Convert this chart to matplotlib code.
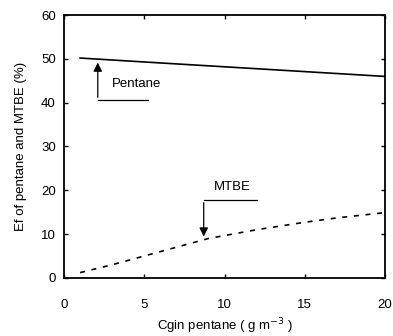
import matplotlib
matplotlib.use("Agg")
import matplotlib.pyplot as plt

plt.rcParams['font.family'] = ['Liberation Sans', 'DejaVu Sans']

# data
pentane_x = [1, 5, 10, 15, 20]
pentane_y = [50.2, 49.3, 48.2, 47.1, 46.0]
mtbe_x = [1, 3, 5, 7, 9, 12, 15, 17, 20]
mtbe_y = [1.2, 3.0, 5.0, 7.0, 9.0, 11.0, 12.7, 13.7, 14.9]

fig = plt.figure(figsize=(3.93, 3.36), dpi=100)
ax = fig.add_axes([0.163, 0.173, 0.817, 0.782])

ax.plot(pentane_x, pentane_y, color='black', lw=1.2)
ax.plot(mtbe_x, mtbe_y, color='black', lw=1.2, ls=(0, (3, 4)))

# annotation callouts
ax.annotate('', xy=(2.1, 49.8), xytext=(2.1, 40.6),
            arrowprops=dict(arrowstyle='-|>', color='black', lw=0.9, mutation_scale=13))
ax.plot([2.1, 5.2], [40.6, 40.6], color='black', lw=0.9)
ax.text(3.0, 44.2, 'Pentane', fontsize=9.5, va='center', ha='left')

ax.annotate('', xy=(8.7, 8.8), xytext=(8.7, 17.8),
            arrowprops=dict(arrowstyle='-|>', color='black', lw=0.9, mutation_scale=13))
ax.plot([8.7, 12.0], [17.8, 17.8], color='black', lw=0.9)
ax.text(10.5, 20.8, 'MTBE', fontsize=9.5, va='center', ha='center')

ax.set_xlim(0, 20)
ax.set_ylim(0, 60)
ax.set_xticks([0, 5, 10, 15, 20])
ax.set_yticks([0, 10, 20, 30, 40, 50, 60])
ax.tick_params(direction='in', top=True, right=True, length=3, width=1, labelsize=9.5)
ax.tick_params(axis='x', pad=15)
ax.tick_params(axis='y', pad=6)
for s in ax.spines.values():
    s.set_linewidth(1.3)

ax.set_xlabel('Cgin pentane ( g m$^{-3}$ )', fontsize=9.5, labelpad=4)
ax.set_ylabel('Ef of pentane and MTBE (%)', fontsize=9.5, labelpad=10)

fig.savefig('out.png', dpi=100)
